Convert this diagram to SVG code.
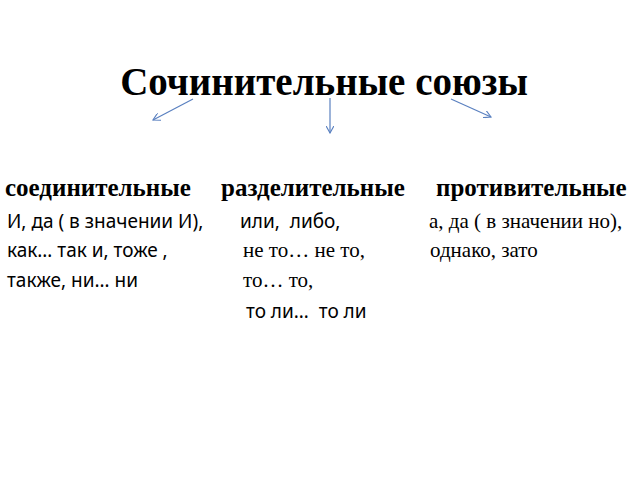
<svg xmlns="http://www.w3.org/2000/svg" width="640" height="480" viewBox="0 0 640 480">
<defs>
<style>
.title{font-family:"Liberation Serif",serif;font-weight:bold;font-size:39px;fill:#000}
.head{font-family:"Liberation Serif",serif;font-weight:bold;font-size:25px;fill:#000}
.serif{font-family:"Liberation Serif",serif;font-size:21px;fill:#000}
.sans{font-family:"Noto Sans",sans-serif;font-size:19px;fill:#000}
.arrow{stroke:#5a80c0;stroke-width:1.2;fill:none}
</style>
<marker id="ah" viewBox="0 0 10 10" refX="9" refY="5" markerWidth="8" markerHeight="8" orient="auto" markerUnits="userSpaceOnUse">
<path d="M0,0 L9,5 L0,10" fill="none" stroke="#5a80c0" stroke-width="1.4"/>
</marker>
</defs>
<rect width="640" height="480" fill="#fff"/>
<g id="title"><text class="title" x="324" y="95" text-anchor="middle">Сочинительные союзы</text></g>
<g id="connectors">
<line class="arrow" x1="193" y1="99" x2="153" y2="120" marker-end="url(#ah)"/>
<line class="arrow" x1="330" y1="98" x2="330" y2="133" marker-end="url(#ah)"/>
<line class="arrow" x1="451" y1="99" x2="491" y2="117" marker-end="url(#ah)"/>
</g>
<g id="col1">
<text class="head" x="5" y="196">соединительные</text>
<text class="sans" x="7" y="228">И, да ( в значении И),</text>
<text class="sans" x="7" y="257">как… так и, тоже ,</text>
<text class="sans" x="7" y="287">также, ни… ни</text>
</g>
<g id="col2">
<text class="head" x="221" y="196">разделительные</text>
<text class="sans" x="240" y="228" xml:space="preserve">или,  либо,</text>
<text class="serif" x="243" y="257">не то… не то,</text>
<text class="serif" x="243" y="287">то… то,</text>
<text class="sans" x="246" y="318" xml:space="preserve">то ли…  то ли</text>
</g>
<g id="col3">
<text class="head" x="436" y="196">противительные</text>
<text class="serif" x="429" y="228">а, да ( в значении но),</text>
<text class="serif" x="430" y="257">однако, зато</text>
</g>
</svg>
